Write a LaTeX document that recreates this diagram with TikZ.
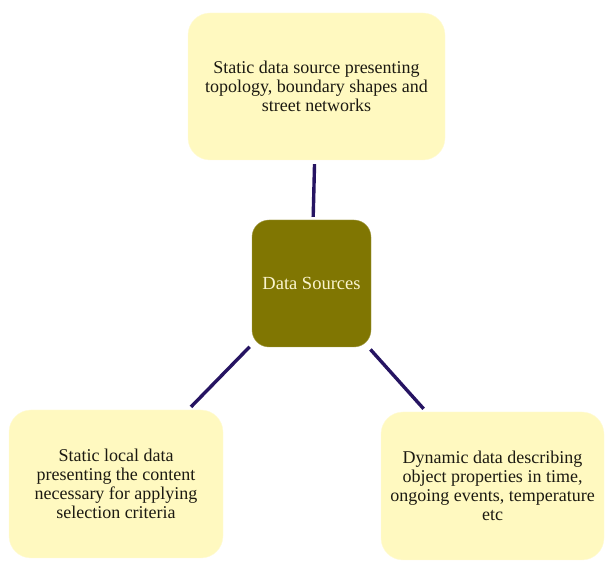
\documentclass[tikz,border=0pt]{standalone}
\usepackage{fontspec}
\setmainfont{Liberation Serif}
\usetikzlibrary{positioning}

\definecolor{boxyellow}{RGB}{255,249,192}
\definecolor{hubolive}{RGB}{128,118,2}
\definecolor{linknavy}{RGB}{38,20,98}
\definecolor{txtgray}{RGB}{28,26,18}
\definecolor{hubcream}{RGB}{250,244,206}

\tikzset{
  infobox/.style={rectangle, rounded corners=22pt, fill=boxyellow, draw=boxyellow!60!white,
    align=center, text=txtgray, font=\fontsize{18}{18.9}\selectfont, inner sep=0pt},
  hubbox/.style={rectangle, rounded corners=17pt, fill=hubolive, draw=hubolive!70!white,
    align=center, text=hubcream, font=\fontsize{18.5}{19}\selectfont, inner sep=0pt},
  link/.style={draw=linknavy, line width=3.4pt, shorten >=4pt, shorten <=3pt}
}

\begin{document}
\begin{tikzpicture}[x=1pt,y=1pt]
  \useasboundingbox (0,0) rectangle (606,-561);

  \node[hubbox, minimum width=119pt, minimum height=127pt] (hub) at (311.5,-283.5) {Data Sources};

  \node[infobox, minimum width=257pt, minimum height=147pt] (topo) at (316.5,-86.5)
    {Static data source presenting\\topology, boundary shapes and\\street networks};
  \node[infobox, minimum width=214pt, minimum height=148pt] (local) at (116,-484)
    {Static local data\\presenting the content\\necessary for applying\\selection criteria};
  \node[infobox, minimum width=223pt, minimum height=148pt] (dyn) at (492.5,-486)
    {Dynamic data describing\\object properties in time,\\ongoing events, temperature\\etc};

  % links from the hub
  \draw[link] (hub) -- (topo);
  \draw[link] (hub) -- (local);
  \draw[link] (hub) -- (dyn);
\end{tikzpicture}
\end{document}
